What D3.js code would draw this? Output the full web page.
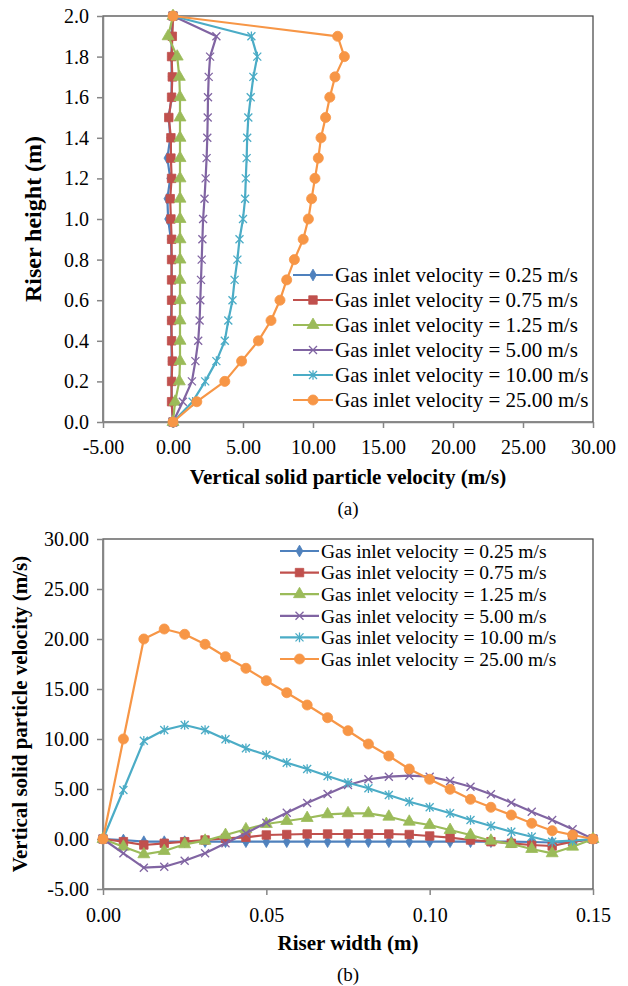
<!DOCTYPE html>
<html>
<head>
<meta charset="utf-8">
<script src="https://cdn.jsdelivr.net/npm/d3@7"></script>
<style>
html,body{margin:0;padding:0;background:#fff;}
svg{display:block;}
svg text{font-family:"Liberation Serif","Times New Roman",Times,"DejaVu Serif",serif !important;fill:#000;}
</style>
</head>
<body>
<svg id="chart" width="628" height="986"></svg>
<script>
// ---------- DATA ----------
const seriesNames = [
  "Gas inlet velocity = 0.25 m/s",
  "Gas inlet velocity = 0.75 m/s",
  "Gas inlet velocity = 1.25 m/s",
  "Gas inlet velocity = 5.00 m/s",
  "Gas inlet velocity = 10.00 m/s",
  "Gas inlet velocity = 25.00 m/s"
];
const colors = ["#4F81BD","#C0504D","#9BBB59","#8064A2","#4BACC6","#F79646"];
const markers = ["diamond","square","triangle","x","star","circle"];

// (a) riser height profile
const heights = [0,0.1,0.2,0.3,0.4,0.5,0.6,0.7,0.8,0.9,1.0,1.1,1.2,1.3,1.4,1.5,1.6,1.7,1.8,1.9,2.0];
const aV025 = [0,-0.1,-0.1,-0.1,-0.1,-0.15,-0.1,-0.1,-0.1,-0.15,-0.35,-0.4,-0.2,-0.4,-0.2,-0.3,-0.1,-0.1,-0.1,-0.1,0];
const aV075 = [0,-0.1,-0.1,-0.05,-0.1,-0.1,-0.1,-0.1,-0.1,-0.1,-0.15,-0.2,-0.1,-0.15,-0.15,-0.3,-0.1,-0.05,-0.1,-0.05,0];
const aV125 = [0,0.15,0.45,0.5,0.5,0.5,0.5,0.5,0.5,0.5,0.5,0.5,0.5,0.5,0.5,0.5,0.5,0.45,0.3,-0.35,0];
const aV500 = [0,0.7,1.35,1.6,1.8,1.9,1.95,2.0,2.05,2.1,2.15,2.25,2.33,2.4,2.45,2.48,2.5,2.55,2.65,3.1,0];
const aV1000 = [0,1.4,2.3,3.1,3.7,3.95,4.25,4.4,4.6,4.75,5.0,5.15,5.2,5.26,5.3,5.38,5.55,5.74,6.02,5.6,0];
const aV2500 = [0,1.7,3.7,4.9,6.1,7.0,7.64,8.12,8.67,9.3,9.67,9.9,10.14,10.38,10.57,10.9,11.2,11.57,12.24,11.76,0];
const aXTicks = [-5,0,5,10,15,20,25,30];
const aYTicks = [0,0.2,0.4,0.6,0.8,1.0,1.2,1.4,1.6,1.8,2.0];

// (b) riser width profile
const widths = [0,0.00625,0.0125,0.01875,0.025,0.03125,0.0375,0.04375,0.05,0.05625,0.0625,0.06875,0.075,0.08125,0.0875,0.09375,0.1,0.10625,0.1125,0.11875,0.125,0.13125,0.1375,0.14375,0.15];
const bV025 = [0,-0.1,-0.27,-0.27,-0.27,-0.27,-0.27,-0.27,-0.27,-0.27,-0.27,-0.27,-0.27,-0.27,-0.27,-0.27,-0.27,-0.27,-0.27,-0.27,-0.27,-0.3,-0.35,-0.3,0];
const bV075 = [0,-0.27,-0.6,-0.43,-0.27,-0.1,0.07,0.17,0.4,0.45,0.5,0.5,0.5,0.5,0.5,0.45,0.3,0.13,-0.1,-0.27,-0.43,-0.6,-0.7,-0.27,0];
const bV125 = [0,-0.77,-1.53,-1.2,-0.53,-0.17,0.4,0.97,1.5,1.8,2.1,2.47,2.57,2.57,2.23,1.73,1.4,0.9,0.4,-0.17,-0.5,-1.0,-1.43,-0.77,0];
const bV500 = [0,-1.43,-2.87,-2.77,-2.17,-1.43,-0.43,0.57,1.63,2.63,3.6,4.5,5.4,5.97,6.23,6.33,6.23,5.8,5.23,4.47,3.63,2.73,1.9,0.97,0];
const bV1000 = [0,4.9,9.83,10.9,11.4,10.9,9.97,9.07,8.4,7.63,7.0,6.3,5.63,5.07,4.4,3.73,3.17,2.57,1.9,1.3,0.73,0.23,-0.27,-0.17,0];
const bV2500 = [0,10.0,20.0,21.0,20.47,19.47,18.23,17.07,15.83,14.63,13.4,12.13,10.83,9.5,8.3,7.0,5.97,4.97,3.97,3.17,2.4,1.57,0.83,0.4,0];
const bXTicks = [0,0.05,0.10,0.15];
const bYTicks = [-5,0,5,10,15,20,25,30];

// ---------- DRAW ----------
const svg = d3.select("#chart");
const fmt = spec => { const f = d3.format(spec); return v => f(v).replace("\u2212", "-"); };

function markerPath(type, s) {
  const p = d3.path();
  if (type === "x") {
    p.moveTo(-s,-s); p.lineTo(s,s); p.moveTo(-s,s); p.lineTo(s,-s);
  } else if (type === "star") {
    p.moveTo(-s,-s); p.lineTo(s,s); p.moveTo(-s,s); p.lineTo(s,-s);
    p.moveTo(0,-s*1.2); p.lineTo(0,s*1.2);
  }
  return p.toString();
}
const symMap = {
  diamond: d3.symbol().type(d3.symbolDiamond).size(40),
  square: d3.symbol().type(d3.symbolSquare).size(72),
  triangle: d3.symbol().type(d3.symbolTriangle).size(62),
  circle: d3.symbol().type(d3.symbolCircle).size(80)
};
function drawMarker(g, type, color, x, y) {
  if (type === "x" || type === "star") {
    g.append("path").attr("d", markerPath(type, 4))
      .attr("transform", `translate(${x},${y})`)
      .attr("stroke", color).attr("stroke-width", 1.3).attr("fill", "none");
  } else {
    g.append("path").attr("d", symMap[type]())
      .attr("transform", `translate(${x},${y})`)
      .attr("fill", color).attr("stroke", color).attr("stroke-width", 0.8);
  }
}

function drawPanel(cfg) {
  const {x, y, xTicks, yTicks, xFmt, yFmt, seriesPts, legend, xTitle, yTitle, yTitleX, yTitleSize, xTitleY, caption, captionY, xLabelY} = cfg;
  const g = svg.append("g");
  const [x0, x1] = x.range();
  const [y0, y1] = y.range();
  g.append("rect").attr("x", x0).attr("y", y1).attr("width", x1 - x0).attr("height", y0 - y1)
    .attr("fill", "none").attr("stroke", "#404040").attr("stroke-width", 1.2);
  const xAxis = d3.axisBottom(x).tickValues(xTicks).tickFormat(xFmt).tickSize(6).tickSizeOuter(0);
  const yAxis = d3.axisLeft(y).tickValues(yTicks).tickFormat(yFmt).tickSize(6).tickSizeOuter(0);
  const gx = g.append("g").attr("transform", `translate(0,${y0})`).call(xAxis);
  const gy = g.append("g").attr("transform", `translate(${x0},0)`).call(yAxis);
  [gx, gy].forEach(a => {
    a.attr("font-family", null).attr("font-size", null);
    a.select(".domain").attr("stroke", "#868686").attr("stroke-width", 1.5);
    a.selectAll(".tick line").attr("stroke", "#868686").attr("stroke-width", 1.5);
    a.selectAll(".tick text").attr("font-size", 20).attr("fill", "#000");
  });
  gx.selectAll(".tick text").attr("y", xLabelY - y0).attr("dy", "0.35em");
  gy.selectAll(".tick text").attr("x", -14);

  seriesPts.forEach((pts, i) => {
    const sg = g.append("g");
    sg.append("path").datum(pts)
      .attr("d", d3.line().x(d => x(d[0])).y(d => y(d[1])))
      .attr("fill", "none").attr("stroke", colors[i]).attr("stroke-width", 2.2).attr("stroke-linejoin", "round");
    pts.forEach(d => drawMarker(sg, markers[i], colors[i], x(d[0]), y(d[1])));
  });

  const lg = g.append("g");
  seriesNames.forEach((name, i) => {
    const ly = legend.y + i * legend.dy;
    lg.append("line").attr("x1", legend.x).attr("x2", legend.x + legend.w)
      .attr("y1", ly).attr("y2", ly).attr("stroke", colors[i]).attr("stroke-width", 2.2);
    drawMarker(lg, markers[i], colors[i], legend.x + legend.w / 2, ly);
    lg.append("text").attr("x", legend.x + legend.w + 2).attr("y", ly).attr("dy", "0.35em")
      .attr("font-size", legend.size).text(name);
  });

  g.append("text").attr("x", (x0 + x1) / 2).attr("y", xTitleY).attr("dy", "0.35em")
    .attr("text-anchor", "middle").attr("font-weight", "bold").attr("font-size", 21).text(xTitle);
  g.append("text").attr("transform", `translate(${yTitleX},${(y0 + y1) / 2}) rotate(-90)`)
    .attr("dy", "0.35em").attr("text-anchor", "middle").attr("font-weight", "bold").attr("font-size", yTitleSize).text(yTitle);
  g.append("text").attr("x", (x0 + x1) / 2).attr("y", captionY).attr("dy", "0.35em")
    .attr("text-anchor", "middle").attr("font-size", 19).text(caption);
}

// Panel (a)
const aSeries = [aV025, aV075, aV125, aV500, aV1000, aV2500];
drawPanel({
  x: d3.scaleLinear().domain([-5, 30]).range([103, 593]),
  y: d3.scaleLinear().domain([0, 2]).range([422, 16]),
  xTicks: aXTicks, yTicks: aYTicks,
  xFmt: fmt(".2f"), yFmt: fmt(".1f"),
  seriesPts: aSeries.map(vals => vals.map((v, j) => [v, heights[j]])),
  legend: {x: 293, y: 275, dy: 25, w: 40, size: 21},
  xTitle: "Vertical solid particle velocity (m/s)",
  yTitle: "Riser height (m)", yTitleSize: 24,
  yTitleX: 33, xTitleY: 477, xLabelY: 447,
  caption: "(a)", captionY: 508
});

// Panel (b)
const bSeries = [bV025, bV075, bV125, bV500, bV1000, bV2500];
drawPanel({
  x: d3.scaleLinear().domain([0, 0.15]).range([103, 593]),
  y: d3.scaleLinear().domain([-5, 30]).range([889, 539]),
  xTicks: bXTicks, yTicks: bYTicks,
  xFmt: fmt(".2f"), yFmt: fmt(".2f"),
  seriesPts: bSeries.map(vals => vals.map((v, j) => [widths[j], v])),
  legend: {x: 280, y: 551, dy: 21.6, w: 39, size: 19.5},
  xTitle: "Riser width (m)",
  yTitle: "Vertical solid particle velocity (m/s)", yTitleSize: 21,
  yTitleX: 20, xTitleY: 943, xLabelY: 915,
  caption: "(b)", captionY: 974
});
</script>
</body>
</html>
